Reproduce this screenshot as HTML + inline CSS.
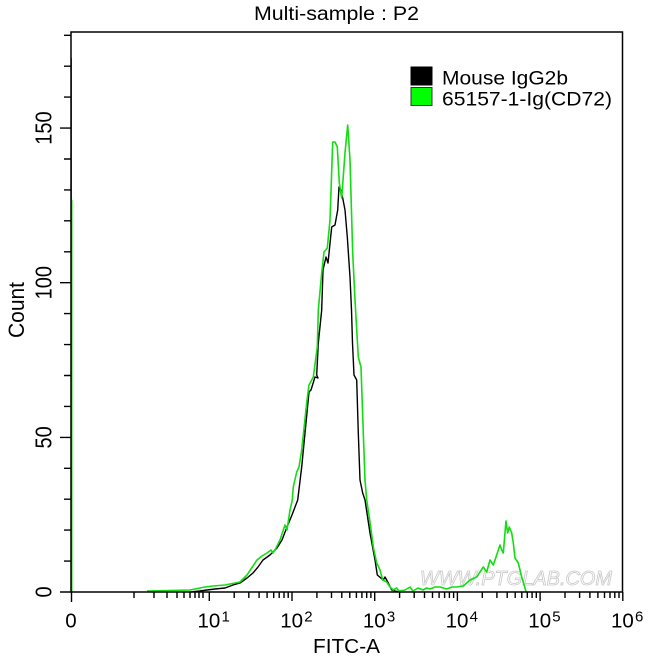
<!DOCTYPE html>
<html><head><meta charset="utf-8"><style>
html,body{margin:0;padding:0;background:#fff;}
svg{display:block;}
text{font-family:"Liberation Sans",Arial,sans-serif;fill:#000;}
</style></head><body>
<svg width="650" height="658" viewBox="0 0 650 658" xmlns="http://www.w3.org/2000/svg">
<rect width="650" height="658" fill="#fff"/>
<!-- title -->
<text x="254" y="20" font-size="19" textLength="165" lengthAdjust="spacingAndGlyphs">Multi-sample : P2</text>

<!-- watermark -->
<text x="420" y="585" font-size="20" font-style="italic" fill="#fff" stroke="#c8c8c8" stroke-width="0.8" textLength="192" lengthAdjust="spacingAndGlyphs" style="fill:#fff">WWW.PTGLAB.COM</text>

<!-- curves -->
<polyline fill="none" stroke="#000" stroke-width="1.4" stroke-linejoin="round" points="
190,592 200,591 207,590 215,589 225,588 233,585 240,583 247,578 253,573 258,567 263,560 270,555 277,548 282,540 287,527 292,515 297.7,500 301.7,467 305,433 309,392 311,390 315,377 318,378 316.7,375 318.3,343 321.7,310 323,270 326,257 328,263 331.7,227 335,225 337.7,210 339,187 340.7,190 342.7,198 345,210 347.3,237 350,277 351.5,310 352.5,343 354,375 356.7,380 358.3,433 360,480 362.7,493 365,500 370,533 375,560 377.3,575 383.3,580 385,577 388.3,583 391.7,590 395,591 400,592"/>
<polyline fill="none" stroke="#11dd11" stroke-width="1.6" stroke-linejoin="round" points="
147,591 190,590 195,589 205,587 213,586 225,585 240,582 247,575 257,560 262,556 267,553 271,550 273,553 276,548 280,540 285,525 287,530 290,510 292.3,500 293.3,487 296.7,472 299,467 301.7,450 306.7,403 309,385 313.3,377 317.3,347 318.3,310 321.7,273 324,252 327.3,248 330,220 332.7,142 335,142 337.3,147 339.3,183 341.7,198 345,153 347.7,125 350,160 352.7,253 355,300 358.3,357 361,367 363.3,433 365,480 366.7,500 370,522 373.3,547 376.7,563 380,570 382.7,580 386.7,582 390,587 393.3,590 396.7,588 399,591 405,590 410,587 413,591 418,588 423,590 426.7,588 430,589 435,587 440,587 446.7,589 452,587 456.7,587 463.3,586 470,580 476.7,577 483.3,567 486.7,572 490,560 493.3,565 496.7,555 500,545 501.7,550 503.3,553 506,521 507.7,533 509.3,527 511.7,533 513.3,543 515,558 518.3,563 521.7,577 525,588 526,592"/>
<line x1="71.8" y1="200" x2="71.8" y2="592" stroke="#11dd11" stroke-width="1.4"/>
<line x1="71.3" y1="58" x2="71.3" y2="200" stroke="#1a5a1a" stroke-width="1.2"/>

<!-- frame -->
<rect x="71" y="32" width="551.5" height="560" fill="none" stroke="#000" stroke-width="1.5"/>

<!-- y ticks -->
<path stroke="#000" stroke-width="1.4" fill="none" d="
M60,592H71 M64,561.1H71 M64,530.1H71 M64,499.2H71 M64,468.3H71 M60,437.4H71 M64,406.4H71 M64,375.5H71 M64,344.6H71 M64,313.6H71 M60,282.7H71 M64,251.8H71 M64,220.8H71 M64,189.9H71 M64,159H71 M60,128.1H71 M64,97.1H71 M64,66.2H71 M64,35.3H71"/>

<!-- x ticks -->
<path stroke="#000" stroke-width="1.4" fill="none" d="
M71.5,592V602 M134,592V598 M154,592V598 M167,592V598 M177,592V598 M184,592V598 M190,592V598 M195,592V598 M199,592V598 M203,592V598
M209.3,592V601 M292,592V601 M374.7,592V601 M457.4,592V601 M540.1,592V601 M622.8,592V601
M234.2,592V598 M248.8,592V598 M259.1,592V598 M267.1,592V598 M273.7,592V598 M279.2,592V598 M284,592V598 M288.2,592V598
M316.9,592V598 M331.5,592V598 M341.8,592V598 M349.8,592V598 M356.4,592V598 M361.9,592V598 M366.7,592V598 M370.9,592V598
M399.6,592V598 M414.2,592V598 M424.5,592V598 M432.5,592V598 M439.1,592V598 M444.6,592V598 M449.4,592V598 M453.6,592V598
M482.3,592V598 M496.9,592V598 M507.2,592V598 M515.2,592V598 M521.8,592V598 M527.3,592V598 M532.1,592V598 M536.3,592V598
M565,592V598 M579.6,592V598 M589.9,592V598 M597.9,592V598 M604.5,592V598 M610,592V598 M614.8,592V598 M619,592V598"/>

<!-- y labels -->
<g font-size="20" text-anchor="middle">
<text transform="translate(51.5,592) scale(1.15,1) rotate(-90)">0</text>
<text transform="translate(51.5,437.4) scale(1.15,1) rotate(-90)">50</text>
<text transform="translate(51.5,282.7) scale(1.15,1) rotate(-90)">100</text>
<text transform="translate(51.5,128.1) scale(1.15,1) rotate(-90)">150</text>
<text transform="translate(24,310) scale(1.1,1) rotate(-90)" font-size="20" textLength="56" lengthAdjust="spacingAndGlyphs">Count</text>
</g>

<!-- x labels -->
<g font-size="20.5">
<text x="71" y="627.5" text-anchor="middle">0</text>
<text x="197.5" y="627.5">10</text><text x="221.5" y="621.5" font-size="15">1</text>
<text x="280.2" y="627.5">10</text><text x="304.2" y="621.5" font-size="15">2</text>
<text x="362.9" y="627.5">10</text><text x="386.9" y="621.5" font-size="15">3</text>
<text x="445.6" y="627.5">10</text><text x="469.6" y="621.5" font-size="15">4</text>
<text x="528.3" y="627.5">10</text><text x="552.3" y="621.5" font-size="15">5</text>
<text x="611" y="627.5">10</text><text x="635" y="621.5" font-size="15">6</text>
<text x="313" y="653" font-size="20" textLength="67" lengthAdjust="spacingAndGlyphs">FITC-A</text>
</g>

<!-- legend -->
<rect x="411" y="67" width="21" height="18" fill="#000" stroke="#000" stroke-width="1"/>
<rect x="411" y="87.5" width="21" height="18" fill="#00ff00" stroke="#333" stroke-width="1"/>
<text x="442" y="84.5" font-size="19.5" textLength="126" lengthAdjust="spacingAndGlyphs">Mouse IgG2b</text>
<text x="442" y="105.5" font-size="19.5" textLength="170" lengthAdjust="spacingAndGlyphs">65157-1-Ig(CD72)</text>
</svg>
</body></html>
